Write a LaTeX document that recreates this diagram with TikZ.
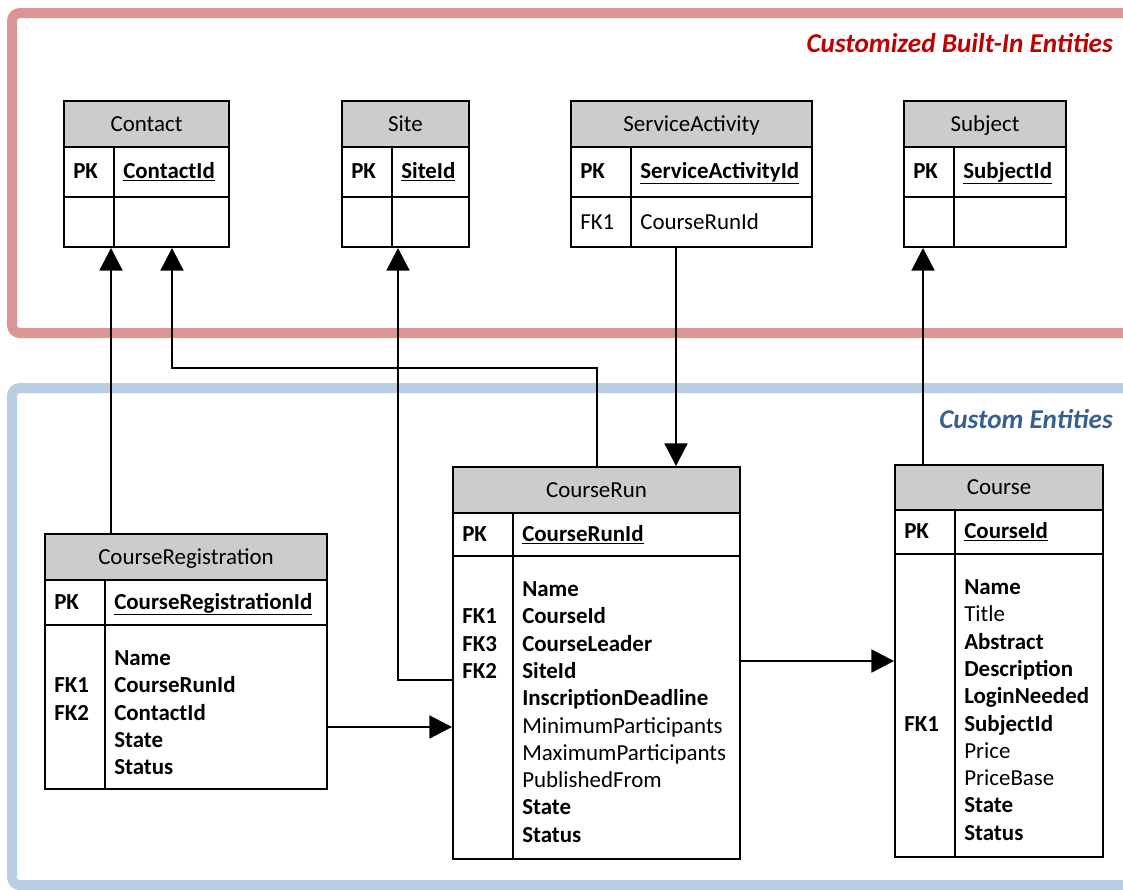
\documentclass[tikz,border=0pt]{standalone}
\usepackage{fontspec}
\setmainfont{Carlito}
\usetikzlibrary{arrows.meta,fit}

\definecolor{framered}{HTML}{D99694}
\definecolor{frameblue}{HTML}{B9CDE5}
\definecolor{titlered}{HTML}{C00000}
\definecolor{titleblue}{HTML}{376092}
\definecolor{headgray}{HTML}{CCCCCC}

\newcommand\bodyfont{\fontsize{17.2}{20.5}\selectfont}

\tikzset{
  tablebox/.style={draw, line width=1.4pt, inner sep=0pt},
  tableline/.style={line width=1.4pt},
  headtext/.style={anchor=base, inner sep=0pt, font=\bodyfont},
  cell/.style={anchor=base west, inner sep=0pt, font=\bodyfont},
  groupframe/.style={line width=7.5pt, rounded corners=6pt},
  grouptitle/.style={anchor=base east, inner sep=0pt,
    font=\fontsize{20.4}{24}\selectfont\bfseries\itshape},
  fk/.style={line width=2.2pt, -{Triangle[length=17pt,width=17pt]}},
}

% #1 name, #2 title, #3 left, #4 right, #5 top, #6 header bottom,
% #7 key-row bottom, #8 bottom, #9 column divider
\newcommand\entity[9]{%
  \fill[headgray] (#3,#5) rectangle (#4,#6);
  \node[tablebox, fit={(#3,#5)(#4,#8)}] (#1) {};
  \draw[tableline] (#3,#6) -- (#4,#6) (#3,#7) -- (#4,#7) (#9,#6) -- (#9,#8);
  \node[headtext] (#1-title) at ({(#3+#4)/2},{(#5+#6)/2+7}) {#2};
}

% #1 name prefix, #2 left, #3 divider, #4 baseline, #5 key column, #6 field
\newcommand\fieldrow[6]{%
  \node[cell] (#1-k) at ({#2+9},{#4}) {#5};
  \node[cell] (#1-f) at ({#3+9},{#4}) {#6};
}

% #1 name prefix, #2 left, #3 divider, #4 body top, #5 list of key/field
\newcommand\fieldlist[5]{%
  \foreach \k/\f [count=\i] in {#5} {
    \fieldrow{#1-\i}{#2}{#3}{#4+40.5+27.3*(\i-1)}{\k}{\f}
  }
}

\begin{document}
\begin{tikzpicture}[x=0.75pt,y=-0.75pt]
\useasboundingbox (0,0) rectangle (1123,889);

% group frames, open to the right
\draw[groupframe, framered] (1140,13) -- (12,13) -- (12,333) -- (1140,333);
\draw[groupframe, frameblue] (1140,388) -- (12,388) -- (12,885) -- (1140,885);
\node[grouptitle, titlered] (t-builtin) at (1113,52) {Customized Built-In Entities};
\node[grouptitle, titleblue] (t-custom) at (1113,428) {Custom Entities};

% built-in entities
\entity{Contact}{Contact}{64}{229}{101}{147}{197}{247}{114}
\fieldrow{Contact-pk}{64}{114}{178}{\textbf{PK}}{\textbf{\underline{ContactId}}}

\entity{Site}{Site}{342}{469}{101}{147}{197}{247}{392}
\fieldrow{Site-pk}{342}{392}{178}{\textbf{PK}}{\textbf{\underline{SiteId}}}

\entity{SA}{ServiceActivity}{571}{812}{101}{147}{197}{247}{631}
\fieldrow{SA-pk}{571}{631}{178}{\textbf{PK}}{\textbf{\underline{ServiceActivityId}}}
\fieldrow{SA-fk}{571}{631}{229}{FK1}{CourseRunId}

\entity{Subject}{Subject}{904}{1066}{101}{147}{197}{247}{954}
\fieldrow{Subject-pk}{904}{954}{178}{\textbf{PK}}{\textbf{\underline{SubjectId}}}

% custom entities
\entity{CRun}{CourseRun}{453}{740}{467}{513}{556}{859}{513}
\fieldrow{CRun-pk}{453}{513}{541}{\textbf{PK}}{\textbf{\underline{CourseRunId}}}
\fieldlist{CRun-a}{453}{513}{556}{
  /\textbf{Name},
  \textbf{FK1}/\textbf{CourseId},
  \textbf{FK3}/\textbf{CourseLeader},
  \textbf{FK2}/\textbf{SiteId},
  /\textbf{InscriptionDeadline},
  /MinimumParticipants,
  /MaximumParticipants,
  /PublishedFrom,
  /\textbf{State},
  /\textbf{Status}}

\entity{CReg}{CourseRegistration}{45}{327}{534}{580}{625}{789}{105}
\fieldrow{CReg-pk}{45}{105}{609}{\textbf{PK}}{\textbf{\underline{CourseRegistrationId}}}
\fieldlist{CReg-a}{45}{105}{625}{
  /\textbf{Name},
  \textbf{FK1}/\textbf{CourseRunId},
  \textbf{FK2}/\textbf{ContactId},
  /\textbf{State},
  /\textbf{Status}}

\entity{Course}{Course}{895}{1103}{465}{510}{554}{857}{955}
\fieldrow{Course-pk}{895}{955}{538}{\textbf{PK}}{\textbf{\underline{CourseId}}}
\fieldlist{Course-a}{895}{955}{554}{
  /\textbf{Name},
  /Title,
  /\textbf{Abstract},
  /\textbf{Description},
  /\textbf{LoginNeeded},
  \textbf{FK1}/\textbf{SubjectId},
  /Price,
  /PriceBase,
  /\textbf{State},
  /\textbf{Status}}

% routing points of the connectors
\coordinate (regx) at (111,0);
\coordinate (leadjog) at (172,368);
\coordinate (leadx) at (597,0);
\coordinate (sitejog) at (398,680);
\coordinate (sax) at (676,0);
\coordinate (subjx) at (923,0);
\coordinate (regy) at (0,727);
\coordinate (runy) at (0,661);

% foreign key references
\draw[fk] (regx |- CReg.north) -- (regx |- Contact.south);
\draw[fk] (leadx |- CRun.north) |- (leadjog) -- (leadjog |- Contact.south);
\draw[fk] (sitejog -| CRun.west) -- (sitejog) -- (sitejog |- Site.south);
\draw[fk] (sax |- SA.south) -- (sax |- CRun.north);
\draw[fk] (subjx |- Course.north) -- (subjx |- Subject.south);
\draw[fk] (regy -| CReg.east) -- (regy -| CRun.west);
\draw[fk] (runy -| CRun.east) -- (runy -| Course.west);
\end{tikzpicture}
\end{document}
